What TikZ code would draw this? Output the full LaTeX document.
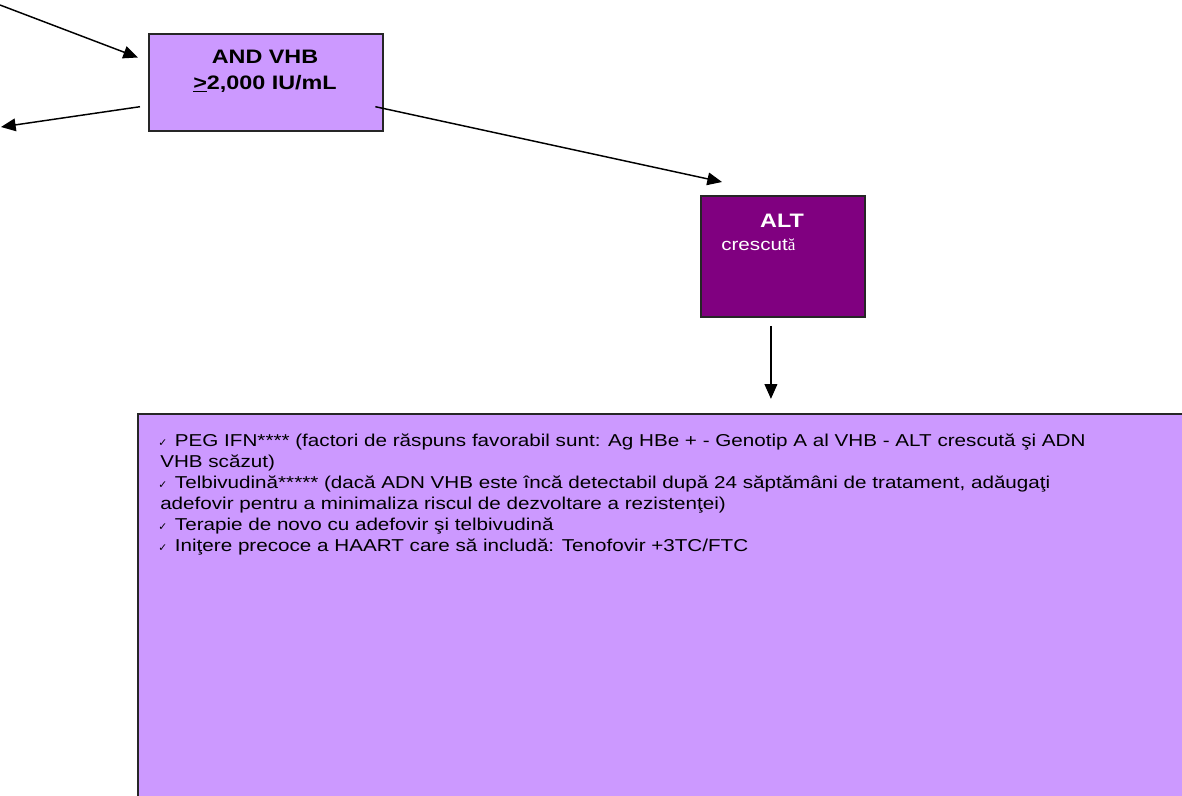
\documentclass[tikz,border=0pt]{standalone}
\usepackage{fontspec}
\setmainfont{Liberation Sans}[FakeStretch=1.2]
\newfontfamily\symfont{DejaVu Sans}
\newfontfamily\glyphfont{Liberation Serif}
\usetikzlibrary{arrows.meta,positioning,calc}
\definecolor{lilac}{RGB}{204,153,255}
\definecolor{plum}{RGB}{128,0,128}
\newcommand{\chk}{\makebox[12.5pt][l]{\symfont\fontsize{8}{8}\selectfont ✓}}

\begin{document}
\begin{tikzpicture}[x=0.75pt, y=-0.75pt,
  box/.style={draw=black!85, line width=1.4pt, inner sep=0pt, anchor=north west},
  lightbox/.style={box, fill=lilac},
  darkbox/.style={box, fill=plum},
  head/.style={font=\fontsize{14.6}{19.5}\selectfont\bfseries, align=center, inner sep=0pt, anchor=base},
  body/.style={font=\fontsize{12.9}{15.75}\selectfont, align=left, inner sep=0pt, anchor=base west},
  arr/.style={-{Triangle[length=11pt,width=9.5pt]}, line width=1.1pt}
]
\useasboundingbox (0,0) rectangle (1182,796);

% boxes
\node[lightbox, minimum width=175.5pt, minimum height=72.75pt] (dna) at (148,33) {};
\node[darkbox, minimum width=123pt, minimum height=90.75pt] (alt) at (700,195) {};
\node[lightbox, minimum width=820pt, minimum height=320pt] (therapy) at (137,413) {};

% texts (base = last line)
\node[head] (dnatext) at (265,89.5) {AND VHB\\\underline{>}2,000 IU/mL};
\node[head, text=white] (alttext) at (782,227) {ALT};
\node[body, text=white] (altsub) at (721,250.5) {crescut{\glyphfont ă}};
\node[body] (therapytext) at (158,551.5) {%
\chk PEG IFN**** (factori de răspuns favorabil sunt: Ag HBe + - Genotip A al VHB - ALT crescută şi ADN\\
\hspace{1.5pt}VHB scăzut)\\
\chk Telbivudină***** (dacă ADN VHB este încă detectabil după 24 săptămâni de tratament, adăugaţi\\
\hspace{1.5pt}adefovir pentru a minimaliza riscul de dezvoltare a rezistenţei)\\
\chk Terapie de novo cu adefovir şi telbivudină\\
\chk Iniţere precoce a HAART care să includă: Tenofovir +3TC/FTC};

% connectors
\coordinate (src) at (0,5);
\coordinate (lft) at (1,127);
\draw[arr] (src) -- ($(dna.north west)+(-10,24.5)$);
\draw[arr] ($(dna.north west)+(-8,73.7)$) -- (lft);
\draw[arr] ($(dna.north east)+(-8.5,73.7)$) -- ($(alt.north west)+(22,-13)$);
\draw[arr] ($(alt.south)+(-12,8)$) -- ($(alt.south)+(-12,81)$);
\end{tikzpicture}
\end{document}
